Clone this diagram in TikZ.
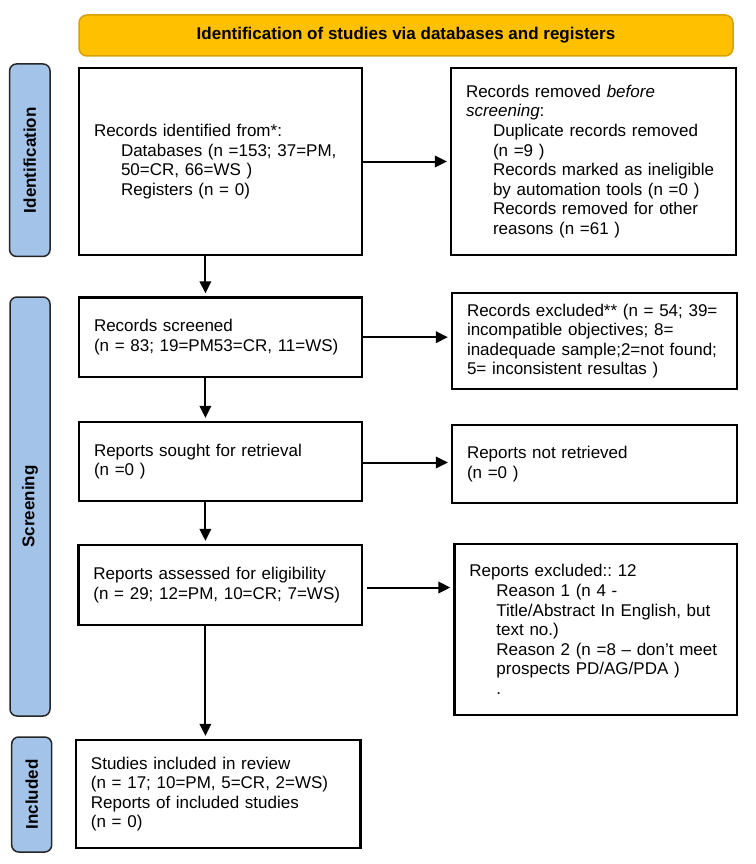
\documentclass[tikz,border=0pt]{standalone}
\usepackage{fontspec}
\setmainfont{Liberation Sans}
\usetikzlibrary{arrows.meta}
\definecolor{sideblue}{RGB}{164,195,233}
\definecolor{bannergold}{RGB}{255,192,0}
\definecolor{bannerborder}{RGB}{214,160,10}
\newcommand{\ind}{\hspace*{27pt}}
\frenchspacing
\begin{document}
\begin{tikzpicture}[x=1pt,y=-1pt,
  txt/.style={font=\fontsize{17}{19.6}\selectfont},
  box/.style={draw=black, line width=2.3pt, rectangle, txt, align=left, inner xsep=15pt, inner ysep=0pt},
  side/.style={draw=black!85, fill=sideblue, line width=1.5pt, rounded corners=7pt, inner sep=0pt, font=\fontsize{17}{20}\selectfont\bfseries, rotate=90},
  banner/.style={draw=bannerborder, fill=bannergold, line width=1.5pt, rounded corners=8pt, inner sep=0pt, font=\fontsize{17}{20}\selectfont\bfseries},
  arr/.style={line width=2pt, -{Triangle[length=12pt,width=11.5pt]}, shorten >=3pt}]
\fill[white] (0,0) rectangle (755,864);
\useasboundingbox (0,0) rectangle (755,864);

\node[banner, minimum width=654pt, minimum height=41pt] (ban) at (406,35.5) {Identification of studies via databases and registers};

\node[side, minimum width=192.5pt, minimum height=40.5pt] (s1) at (29.8,160.2) {Identification};
\node[side, minimum width=419pt, minimum height=40pt] (s2) at (30,506.5) {Screening};
\node[side, minimum width=115pt, minimum height=40pt] (s3) at (31.7,794.5) {Included};

\node[box, text width=253pt, minimum height=187pt] (b1) at (220.5,161.5) {Records identified from*:\\
\ind Databases (n =153; 37=PM,\\
\ind 50=CR, 66=WS )\\
\ind Registers (n = 0)};

\node[box, text width=255pt, minimum height=187pt] (b2) at (593.5,161.5) {Records removed \textit{before}\\
\textit{screening}:\\
\ind Duplicate records removed\\
\ind (n =9 )\\
\ind Records marked as ineligible\\
\ind by automation tools (n =0 )\\
\ind Records removed for other\\
\ind reasons (n =61 )};

\node[box, text width=253pt, minimum height=79.5pt] (b3) at (220.5,337.2) {Records screened\\
(n = 83; 19=PM53=CR, 11=WS)};

\node[box, text width=255pt, minimum height=96pt] (b4) at (594.5,341) {Records excluded** (n = 54; 39=\\
incompatible objectives; 8=\\
inadequade sample;2=not found;\\
5= inconsistent resultas )};

\node[box, text width=253pt, minimum height=79pt] (b5) at (220.5,461.5) {Reports sought for retrieval\\
(n =0 )};

\node[box, text width=255pt, minimum height=78pt] (b6) at (594.5,464) {Reports not retrieved\\
(n =0 )};

\node[box, text width=253.5pt, minimum height=80pt] (b7) at (220.2,585) {Reports assessed for eligibility\\
(n = 29; 12=PM, 10=CR; 7=WS)};

\node[box, text width=252.5pt, minimum height=171pt] (b8) at (595.7,629.5) {Reports excluded:: 12\\
\ind Reason 1 (n 4 -\\
\ind Title/Abstract In English, but\\
\ind text no.)\\
\ind Reason 2 (n =8 – don’t meet\\
\ind prospects PD/AG/PDA )\\
\ind .};

\node[box, text width=254.5pt, minimum height=108pt] (b9) at (218.2,794) {Studies included in review\\
(n = 17; 10=PM, 5=CR, 2=WS)\\
Reports of included studies\\
(n = 0)};

\coordinate (vx) at (205.4,0);
\draw[arr] (b1.south -| vx) -- (b3.north -| vx);
\draw[arr] (b3.south -| vx) -- (b5.north -| vx);
\draw[arr] (b5.south -| vx) -- (b7.north -| vx);
\draw[arr] (b7.south -| vx) -- (b9.north -| vx);

\draw[arr] (b1.east) -- (b1.east -| b2.west);
\draw[arr] (b3.east) -- (b3.east -| b4.west);
\draw[arr] ([yshift=-1pt]b5.east) -- ([yshift=-1pt]b5.east -| b6.west);
\draw[arr, shorten <=4pt] ([yshift=-2.5pt]b7.east) -- ([yshift=-2.5pt]b7.east -| b8.west);
\end{tikzpicture}
\end{document}
